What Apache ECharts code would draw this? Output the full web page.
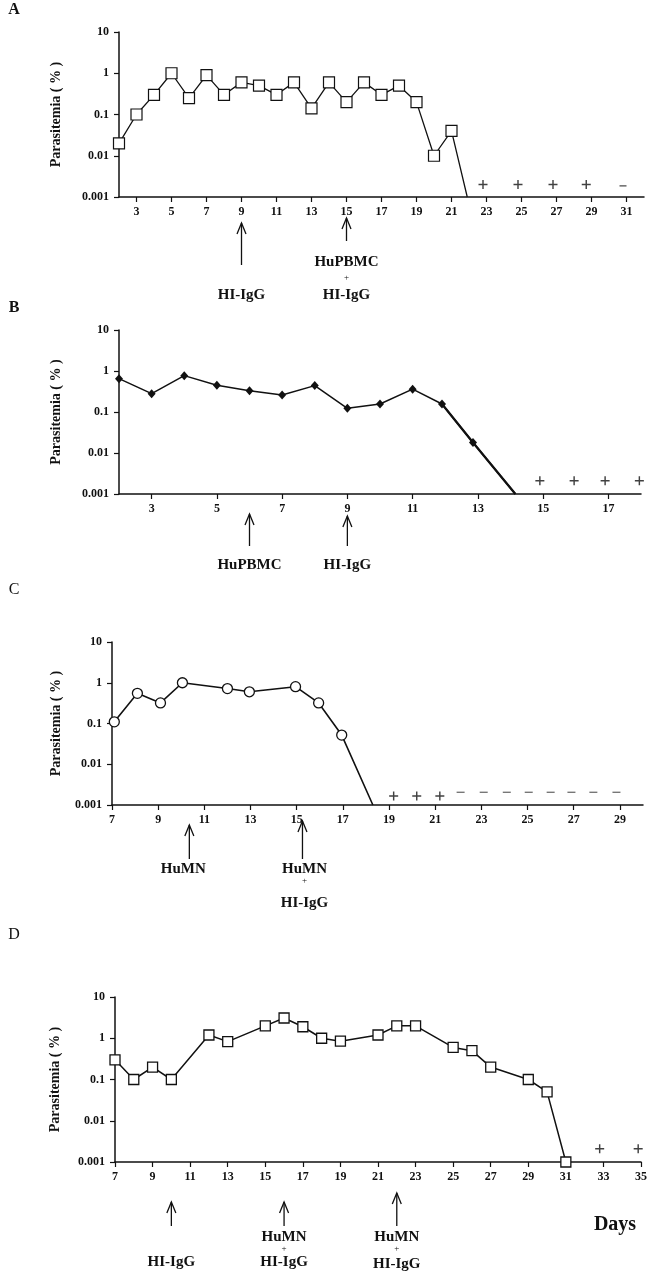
<!DOCTYPE html>
<html><head><meta charset="utf-8">
<script src="https://cdn.jsdelivr.net/npm/echarts@6/dist/echarts.min.js"></script>
<style>html,body{margin:0;padding:0;background:#fff}#c{width:653px;height:1280px}</style>
</head><body><div id="c"></div>
<script>
// ---------- data ----------
const yTickLabels = ['0.001', '0.01', '0.1', '1', '10'];
const yTitle = 'Parasitemia ( % )';

// Panel A
const daysA = [2, 3, 4, 5, 6, 7, 8, 9, 10, 11, 12, 13, 14, 15, 16, 17, 18, 19, 20, 21];
const valuesA = [0.02, 0.1, 0.3, 1.0, 0.25, 0.9, 0.3, 0.6, 0.5, 0.3, 0.6, 0.14, 0.6, 0.2, 0.6, 0.3, 0.5, 0.2, 0.01, 0.04];
const dropA = [21.9, 0.001];
const plusDaysA = [22.8, 24.8, 26.8, 28.7];
const dashDaysA = [30.8];
const xTicksA = [3, 5, 7, 9, 11, 13, 15, 17, 19, 21, 23, 25, 27, 29, 31];

// Panel B
const daysB = [2, 3, 4, 5, 6, 7, 8, 9, 10, 11, 11.9, 12.85];
const valuesB = [0.65, 0.28, 0.77, 0.45, 0.33, 0.26, 0.44, 0.123, 0.157, 0.36, 0.157, 0.018];
const dropB = [14.15, 0.001];
const plusDaysB = [14.9, 15.95, 16.9, 17.95];
const xTicksB = [3, 5, 7, 9, 11, 13, 15, 17];

// Panel C
const daysC = [7.1, 8.1, 9.1, 10.05, 12.0, 12.95, 14.95, 15.95, 16.95];
const valuesC = [0.11, 0.55, 0.32, 1.0, 0.72, 0.6, 0.8, 0.32, 0.052];
const dropC = [18.3, 0.001];
const plusDaysC = [19.2, 20.2, 21.2];
const dashDaysC = [22.1, 23.1, 24.1, 25.05, 26.0, 26.9, 27.85, 28.85];
const xTicksC = [7, 9, 11, 13, 15, 17, 19, 21, 23, 25, 27, 29];

// Panel D
const daysD = [7, 8, 9, 10, 12, 13, 15, 16, 17, 18, 19, 21, 22, 23, 25, 26, 27, 29, 30, 31];
const valuesD = [0.3, 0.1, 0.2, 0.1, 1.2, 0.83, 2.0, 3.1, 1.9, 1.0, 0.85, 1.2, 2.0, 2.0, 0.6, 0.5, 0.2, 0.1, 0.05, 0.001];
const plusDaysD = [32.8, 34.85];
const xTicksD = [7, 9, 11, 13, 15, 17, 19, 21, 23, 25, 27, 29, 31, 33, 35];

// treatment annotations (day, label lines)
const arrowsA = [{ day: 9, lines: ['HI-IgG'] }, { day: 15, lines: ['HuPBMC', '+', 'HI-IgG'] }];
const arrowsB = [{ day: 6, lines: ['HuPBMC'] }, { day: 9, lines: ['HI-IgG'] }];
const arrowsC = [{ day: 10.35, lines: ['HuMN'] }, { day: 15.25, lines: ['HuMN', '+', 'HI-IgG'] }];
const arrowsD = [{ day: 10, lines: ['HI-IgG'] }, { day: 16, lines: ['HuMN', '+', 'HI-IgG'] }, { day: 22, lines: ['HuMN', '+', 'HI-IgG'] }];

const plusLevel = 0.002;
const dashLevel = 0.002;

// ---------- layout / style ----------
const FONT = '"Liberation Serif", "DejaVu Serif", serif';
const INK = '#111';
const panels = [
  { letter: 'A', bold: true, grid: { left: 119, top: 32, width: 525, height: 165 }, x: [2, 32], ticks: xTicksA, gap: 56,
    arrows: arrowsA, tips: [26, 21], base: [68, 44], labelY: [[98], [65, 81, 98]], labelDx: [0, 0] },
  { letter: 'B', bold: true, grid: { left: 119, top: 330, width: 522, height: 164 }, x: [2, 18], ticks: xTicksB, gap: 56,
    arrows: arrowsB, tips: [20, 22], base: [52, 52], labelY: [[71], [71]], labelDx: [0, 0] },
  { letter: 'C', bold: false, grid: { left: 112, top: 642, width: 531, height: 163 }, x: [7, 30], ticks: xTicksC, gap: 49,
    arrows: arrowsC, tips: [20, 16], base: [54, 54], labelY: [[64], [64, 76, 98]], labelDx: [-6, 2] },
  { letter: 'D', bold: false, grid: { left: 115, top: 997, width: 526, height: 165 }, x: [7, 35], ticks: xTicksD, gap: 53,
    arrows: arrowsD, tips: [40, 40, 31], base: [64, 64, 64], labelY: [[100], [75, 87, 100], [75, 87, 102]], labelDx: [0, 0, 0] }
];

const PLUS = 'path://M0,4.2H10V5.8H0ZM4.2,0H5.8V10H4.2Z';

function pts(days, vals) { return days.map((d, i) => [d, vals[i]]); }

const grids = [], xAxes = [], yAxes = [], series = [];
panels.forEach((p, i) => {
  grids.push(Object.assign({}, p.grid));
  xAxes.push({
    type: 'value', gridIndex: i, min: p.x[0], max: p.x[1],
    splitLine: { show: false },
    axisLine: { lineStyle: { color: INK, width: 1.5 } },
    axisTick: { customValues: p.ticks, length: 5, lineStyle: { color: INK, width: 1.2 } },
    axisLabel: { customValues: p.ticks, color: INK, fontFamily: FONT, fontWeight: 'bold', fontSize: 12, margin: 9 }
  });
  yAxes.push({
    type: 'log', logBase: 10, gridIndex: i, min: 0.001, max: 10,
    name: yTitle, nameLocation: 'middle', nameRotate: 90, nameGap: p.gap,
    nameTextStyle: { color: INK, fontFamily: FONT, fontWeight: 'bold', fontSize: 14 },
    splitLine: { show: false },
    axisLine: { show: true, lineStyle: { color: INK, width: 1.5 } },
    axisTick: { show: true, length: 5, lineStyle: { color: INK, width: 1.2 } },
    minorTick: { show: false },
    axisLabel: {
      color: INK, fontFamily: FONT, fontWeight: 'bold', fontSize: 12, margin: 10,
      formatter: v => yTickLabels[Math.round(Math.log10(v)) + 3]
    }
  });
});

const lineBase = { type: 'line', clip: false, z: 3, lineStyle: { color: INK, width: 1.3 } };

// A
series.push(Object.assign({}, lineBase, {
  xAxisIndex: 0, yAxisIndex: 0, symbol: 'rect', symbolSize: 11,
  itemStyle: { color: '#fff', borderColor: INK, borderWidth: 1.2 },
  data: pts(daysA, valuesA).concat([{ value: dropA, symbol: 'none' }])
}));
series.push({ type: 'scatter', xAxisIndex: 0, yAxisIndex: 0, symbol: PLUS, symbolSize: 9, itemStyle: { color: INK },
  data: plusDaysA.map(d => [d, plusLevel]) });
series.push({ type: 'scatter', xAxisIndex: 0, yAxisIndex: 0, symbol: 'rect', symbolSize: [7, 1.2], itemStyle: { color: INK },
  data: dashDaysA.map(d => [d, dashLevel * 0.93]) });

// B
series.push(Object.assign({}, lineBase, {
  xAxisIndex: 1, yAxisIndex: 1, symbol: 'diamond', symbolSize: [8, 9],
  lineStyle: { color: INK, width: 1.5 },
  itemStyle: { color: INK },
  data: pts(daysB, valuesB).concat([{ value: dropB, symbol: 'none' }])
}));
series.push({ type: 'line', xAxisIndex: 1, yAxisIndex: 1, clip: false, symbol: 'none', z: 2,
  lineStyle: { color: INK, width: 2.3 },
  data: [[daysB[daysB.length - 2], valuesB[valuesB.length - 2]], [daysB[daysB.length - 1], valuesB[valuesB.length - 1]], dropB] });
series.push({ type: 'scatter', xAxisIndex: 1, yAxisIndex: 1, symbol: PLUS, symbolSize: 9, itemStyle: { color: INK },
  data: plusDaysB.map(d => [d, plusLevel * 1.05]) });

// C
series.push(Object.assign({}, lineBase, {
  xAxisIndex: 2, yAxisIndex: 2, symbol: 'circle', symbolSize: 10,
  lineStyle: { color: INK, width: 1.6 },
  itemStyle: { color: '#fff', borderColor: INK, borderWidth: 1.3 },
  data: pts(daysC, valuesC).concat([{ value: dropC, symbol: 'none' }])
}));
series.push({ type: 'scatter', xAxisIndex: 2, yAxisIndex: 2, symbol: PLUS, symbolSize: 9, itemStyle: { color: INK },
  data: plusDaysC.map(d => [d, plusLevel * 0.83]) });
series.push({ type: 'scatter', xAxisIndex: 2, yAxisIndex: 2, symbol: 'rect', symbolSize: [8, 1], itemStyle: { color: INK },
  data: dashDaysC.map(d => [d, dashLevel * 1.03]) });

// D
series.push(Object.assign({}, lineBase, {
  xAxisIndex: 3, yAxisIndex: 3, symbol: 'rect', symbolSize: 10,
  lineStyle: { color: INK, width: 1.5 },
  itemStyle: { color: '#fff', borderColor: INK, borderWidth: 1.3 },
  data: pts(daysD, valuesD)
}));
series.push({ type: 'scatter', xAxisIndex: 3, yAxisIndex: 3, symbol: PLUS, symbolSize: 9, itemStyle: { color: INK },
  data: plusDaysD.map(d => [d, plusLevel * 1.05]) });

const chart = echarts.init(document.getElementById('c'), null, { renderer: 'canvas' });
chart.setOption({ animation: false, backgroundColor: '#fff', grid: grids, xAxis: xAxes, yAxis: yAxes, series: series });

// ---------- annotations (positions from the chart's own scales) ----------
const gfx = [];
panels.forEach((p, i) => {
  const axisY = p.grid.top + p.grid.height;
  gfx.push({ type: 'text', x: 14, y: p.grid.top - (i === 0 ? 22 : i === 1 ? 22 : i === 2 ? 52 : 62),
    style: { text: p.letter, font: (p.bold ? 'bold ' : '') + '16px ' + FONT, fill: INK, textAlign: 'center', textVerticalAlign: 'middle' } });
  p.arrows.forEach((a, k) => {
    const x = chart.convertToPixel({ xAxisIndex: i }, a.day);
    const tip = axisY + p.tips[k], base = axisY + p.base[k];
    gfx.push({ type: 'line', shape: { x1: x, y1: tip, x2: x, y2: base }, style: { stroke: INK, lineWidth: 1.3 } });
    gfx.push({ type: 'polyline', shape: { points: [[x - 4.5, tip + 11], [x, tip], [x + 4.5, tip + 11]] }, style: { stroke: INK, lineWidth: 1.3, fill: null } });
    a.lines.forEach((t, j) => {
      const small = t === '+';
      gfx.push({ type: 'text', x: x + p.labelDx[k], y: axisY + p.labelY[k][j],
        style: { text: t, font: (small ? '9px ' : 'bold 15px ') + FONT, fill: INK, textAlign: 'center', textVerticalAlign: 'middle' } });
    });
  });
});
gfx.push({ type: 'text', x: 615, y: 1225, style: { text: 'Days', font: 'bold 20px ' + FONT, fill: INK, textAlign: 'center', textVerticalAlign: 'middle' } });
chart.setOption({ graphic: gfx });
</script></body></html>
